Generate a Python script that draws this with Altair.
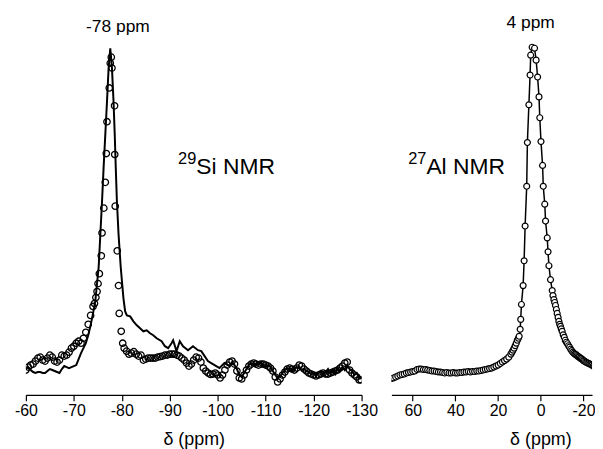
import altair as alt
import pandas as pd

# ---------------- 29Si NMR (left panel) ----------------
si_line_ppm = [-60.0, -60.5, -61.0, -61.5, -62.0, -62.5, -63.0, -63.5, -64.0, -64.5,
               -65.0, -65.5, -66.0, -66.5, -67.0, -67.5, -68.0, -68.5, -69.0, -69.5,
               -70.0, -70.5, -71.0, -71.5, -72.0, -72.5, -73.0, -73.5, -74.0,
               -74.49, -75.18, -75.53, -75.88, -76.21, -76.56, -76.91, -77.25, -77.6,
               -77.95, -78.28, -78.53, -78.74, -78.98, -79.32, -79.77, -80.35, -80.7, -81.06,
               -81.74, -82.42, -83.13, -83.81, -84.49, -85.2, -85.88, -86.56, -87.27, -88.3,
               -88.99, -89.67, -90.37, -90.7, -91.41, -92.09, -92.77, -93.81, -94.84, -95.88,
               -96.58, -97.27, -97.95, -98.65, -99.69, -100.37, -101.41, -102.44,
               -103.0, -103.5, -104.0, -104.5, -105.0, -105.5, -106.0, -106.5, -107.0, -107.5,
               -108.0, -108.5, -109.0, -109.5, -110.0, -110.5, -111.0, -111.5, -112.0, -112.5,
               -113.0, -113.5, -114.0, -114.5, -115.0, -115.5, -116.0, -116.5, -117.0, -117.5,
               -118.0, -118.5, -119.0, -119.5, -120.0, -120.5, -121.0, -121.5, -122.0, -122.5,
               -123.0, -123.5, -124.0, -124.5, -125.0, -125.5, -126.0, -126.5, -127.0, -127.5,
               -128.0, -128.5, -129.0, -129.5, -130.0]
si_line_int = [26, 28, 25, 23, 22, 23, 23, 22, 22, 24,
               26, 25, 24, 23, 22, 26, 29, 28, 27, 28,
               29, 30, 36, 42, 47, 52, 60, 70, 82,
               95, 129, 162, 195, 229, 262, 295, 329, 349,
               329, 295, 262, 229, 195, 162, 129, 97, 84, 80,
               79, 74, 70, 67, 64, 65, 62, 60, 57, 54,
               49, 47, 52, 55, 44, 54, 49, 45, 49, 45,
               44, 39, 34, 32, 29, 27, 32, 29,
               33, 30, 26, 20, 18, 22, 26, 30, 32, 31,
               30, 31, 33, 30, 28, 30, 28, 24, 20, 17,
               19, 22, 25, 27, 26, 24, 26, 28, 27, 25,
               26, 24, 23, 21, 22, 20, 22, 24, 21, 23,
               26, 22, 25, 21, 27, 24, 28, 25, 30, 26,
               24, 20, 22, 18, 16]

si_pts_ppm = [-60.0, -60.5, -61.0, -61.5, -62.0, -62.5, -63.0, -63.5, -64.0, -64.5,
              -65.0, -65.5, -66.0, -66.5, -67.0, -67.5, -68.0, -68.5, -69.0, -69.5,
              -70.0, -70.5, -71.0, -71.5, -72.0, -72.5, -73.0, -73.5, -74.0, -74.3,
              -74.6, -74.84, -75.05, -75.32, -75.73, -75.88, -76.25, -76.56, -76.77, -76.91,
              -77.39, -77.6, -77.81, -77.95, -78.49, -78.53, -78.63, -79.05, -79.32, -79.46,
              -79.88, -80.19, -80.5, -81.0, -81.5, -82.0, -82.5, -83.0, -83.5, -84.0,
              -84.5, -85.0, -85.5, -86.0, -86.5, -87.0, -87.5, -88.0, -88.5, -89.0,
              -89.5, -90.0, -90.5, -91.0, -91.5, -92.0, -92.5, -93.0, -93.5, -94.0,
              -94.5, -95.0, -95.5, -96.0, -96.5, -97.0, -97.5, -98.0, -98.5, -99.0,
              -99.5, -100.0, -100.5, -101.0, -101.5, -102.0, -102.5, -103.0, -103.5, -104.0,
              -104.5, -105.0, -105.5, -106.0, -106.5, -107.0, -107.5, -108.0, -108.5, -109.0,
              -109.5, -110.0, -110.5, -111.0, -111.5, -112.0, -112.5, -113.0, -113.5, -114.0,
              -114.5, -115.0, -115.5, -116.0, -116.5, -117.0, -117.5, -118.0, -118.5, -119.0,
              -119.5, -120.0, -120.5, -121.0, -121.5, -122.0, -122.5, -123.0, -123.5, -124.0,
              -124.5, -125.0, -125.5, -126.0, -126.5, -127.0, -127.5, -128.0, -128.5, -129.0,
              -129.5, -129.9]
si_pts_int = [25, 28, 30, 31, 34, 37, 38, 35, 34, 37,
              40, 38, 34, 33, 35, 40, 39, 40, 43, 47,
              49, 52, 54, 52, 57, 63, 71, 80, 89, 92,
              98, 104, 112, 122, 140, 163, 188, 214, 243, 275,
              309, 334, 340, 329, 291, 242, 190, 145, 110, 82,
              64, 52, 47, 44, 41, 42, 43.5, 41, 39, 40,
              35, 36, 37, 37, 37, 37, 38, 38.5, 39, 40,
              40, 41, 41, 41, 40, 39, 37, 35, 32, 29,
              31, 35, 38, 37, 33, 27, 24, 22, 20.5, 21,
              22, 20, 17, 20, 25, 30, 33, 34, 31, 24,
              17, 16, 20, 25, 29, 31, 32, 31, 30, 31,
              31, 30, 29, 27, 24, 18, 13, 16, 20, 23,
              26, 27, 26, 25, 27, 30, 29, 26, 24, 22,
              21, 20, 19, 20, 21, 22, 21, 21, 22, 23,
              24, 25, 27, 29, 32, 33, 25, 22, 20, 18,
              15, 15]

si_ticks = [-60, -70, -80, -90, -100, -110, -120, -130]

# ---------------- 27Al NMR (right panel) ----------------
al_ppm = [70, 69, 68, 67, 66, 65, 64, 63, 62, 61,
          60, 59, 58, 57, 56, 55, 54, 53, 52, 51,
          50, 49, 48, 47, 46, 45, 44, 43, 42, 41,
          40, 39, 38, 37, 36, 35, 34, 33, 32, 31,
          30, 29, 28, 27, 26, 25, 24, 23, 22, 21,
          20, 19, 18, 17, 16, 15, 14, 13.5, 13, 12.5,
          12, 11.5, 11, 10.5, 10.14, 9.67, 9.4, 9.07, 8.28, 7.81,
          7.35, 6.6, 6.28, 5.58, 5.02, 4.74, 4.05, 2.93, 2.19, 1.49,
          0.84, 0.47, -0.09, -0.84, -1.16, -1.86, -2.23, -3.02, -3.4, -3.81,
          -4.56, -5.35, -5.7, -6.14, -6.5, -6.88, -7.3, -7.67, -8.1, -8.47,
          -8.85, -9.21, -9.6, -10.0, -10.5, -11.0, -11.5, -12.0, -12.5, -13.0,
          -13.5, -14.0, -14.5, -15.0, -15.5, -16.0, -16.5, -17.0, -17.5, -18.0,
          -18.5, -19.0, -19.5, -20.0, -20.5, -21.0, -21.5, -22.0, -22.5, -23.0,
          -23.5, -24.0, -24.5, -25.0]
al_int = [16.5, 17, 18, 19, 20, 20.5, 21, 22, 22.5, 23,
          23.5, 24, 25.5, 26, 26, 25.5, 25.5, 25, 24.5, 24,
          24, 23.5, 23, 23, 22.5, 22, 22.5, 22, 22, 22.5,
          22, 22, 22.5, 22.5, 23, 23, 23.5, 23, 23.5, 23.5,
          24, 24, 24.5, 25, 25.5, 26, 26.5, 27, 28, 29,
          30, 31.5, 33, 34.5, 36, 38, 41, 43, 45, 47,
          49.5, 52, 55, 57, 59, 66, 76, 91, 110, 135,
          170, 210, 254, 292, 322, 342, 350, 349, 337, 320,
          300, 279, 255, 231, 210, 192, 175, 158, 144, 130,
          116, 105, 100, 96, 93, 90, 86, 82, 78, 74,
          71, 69, 66.5, 64, 60.5, 58, 55, 53, 51.5, 49.5,
          48, 46, 44.5, 43, 42, 41, 40.5, 39.5, 38.5, 38,
          37, 36.5, 35.5, 34.5, 34, 33, 32.5, 32, 31.5, 31,
          30.5, 30, 29, 28.5]

al_ticks = [60, 40, 20, 0, -20]

# ---------------- annotations ----------------
si_peak_label = {"ppm": -79.2, "I": 365.5, "text": "-78 ppm"}
si_main_label = {"ppm": -95.55, "I": 222, "text": "Si NMR"}
si_sup_label = {"ppm": -91.74, "I": 232, "text": "29"}
al_peak_label = {"ppm": 4.74, "I": 369, "text": "4 ppm"}
al_main_label = {"ppm": 53.6, "I": 222, "text": "Al NMR"}
al_sup_label = {"ppm": 62.1, "I": 232, "text": "27"}

FONT = "Liberation Sans"
YMAX = 379

yscale = alt.Scale(domain=[0, YMAX], nice=False, zero=False)


def x_axis(values, title_x=None):
    kw = dict(values=values, labelExpr="'' + datum.value", title="δ (ppm)",
              domainColor="black", tickColor="black", labelColor="black",
              titleColor="black", tickSize=6, labelFontSize=16, titleFontSize=18,
              labelFont=FONT, titleFont=FONT, titleFontWeight="normal", grid=False,
              labelPadding=2, titleY=45, titleBaseline="middle", titleAlign="center",
              domainWidth=1.2, tickWidth=1.2, labelFlush=False, labelOverlap=False)
    if title_x is not None:
        kw["titleX"] = title_x
    return alt.Axis(**kw)


def text_layer(d, size, align, baseline, xscale):
    return alt.Chart(pd.DataFrame([d])).mark_text(
        font=FONT, fontSize=size, align=align, baseline=baseline, color="black"
    ).encode(x=alt.X("ppm:Q", scale=xscale), y=alt.Y("I:Q", scale=yscale), text="text:N")


def panel(line_df, pts_df, xscale, ticks, labels, width, line_w, pt_fill, pt_size, title_x=None):
    base_x = alt.X("ppm:Q", scale=xscale, axis=x_axis(ticks, title_x))
    line = alt.Chart(line_df).mark_line(color="black", strokeWidth=line_w, clip=True).encode(
        x=base_x, y=alt.Y("I:Q", scale=yscale, axis=None))
    if pt_fill:
        pmark = alt.Chart(pts_df).mark_point(
            shape="circle", filled=True, fill="white", stroke="black", strokeWidth=1.2,
            size=pt_size, opacity=1, clip=True)
    else:
        pmark = alt.Chart(pts_df).mark_point(
            shape="circle", filled=False, stroke="black", strokeWidth=1.3,
            size=pt_size, opacity=1, clip=True)
    pts = pmark.encode(x=alt.X("ppm:Q", scale=xscale), y=alt.Y("I:Q", scale=yscale))
    peak, main, sup = labels
    texts = [
        text_layer(peak, 17.5, "center", "alphabetic", xscale),
        text_layer(main, 23, "left", "alphabetic", xscale),
        text_layer(sup, 16.5, "left", "alphabetic", xscale),
    ]
    return alt.layer(line, pts, *texts).properties(width=width, height=YMAX)


si_line_df = pd.DataFrame({"ppm": si_line_ppm, "I": si_line_int})
si_pts_df = pd.DataFrame({"ppm": si_pts_ppm, "I": si_pts_int})
al_df = pd.DataFrame({"ppm": al_ppm, "I": al_int})

si_x = alt.Scale(domain=[-130, -60], reverse=True, nice=False, zero=False)
al_x = alt.Scale(domain=[-24, 70], reverse=True, nice=False, zero=False)

left = panel(si_line_df, si_pts_df, si_x, si_ticks,
             (si_peak_label, si_main_label, si_sup_label), 338, 2.0, False, 42)
right = panel(al_df, al_df, al_x, al_ticks,
              (al_peak_label, al_main_label, al_sup_label), 202, 1.5, True, 36, title_x=150)

chart = alt.hconcat(left, right, spacing=30, bounds="flush").properties(
    padding={"left": 6, "top": 5, "right": 0, "bottom": 0}
).configure_view(stroke=None)

chart.save("out.html", embed_options={"renderer": "svg", "actions": False})
